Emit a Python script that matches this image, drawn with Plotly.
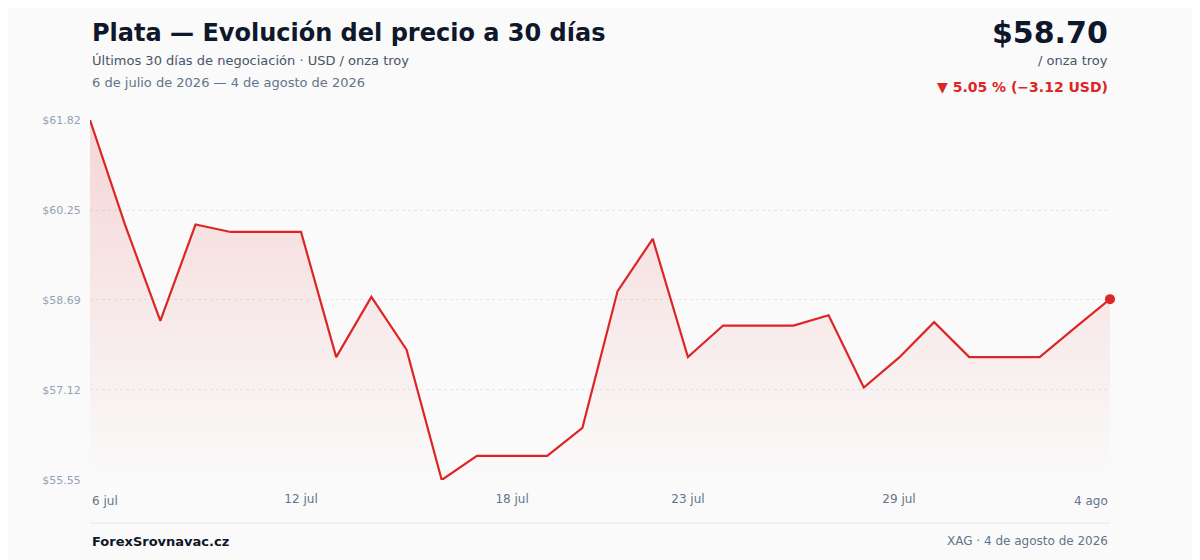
"""
Silver (XAG) 30-day price chart, Spanish labels.
"""

import pandas as pd
import plotly.graph_objects as go

# --- data -----------------------------------------------------------------
dates = pd.date_range("2026-07-06", "2026-08-04", freq="D")

prices = [
    61.82, 59.99, 58.32, 60.00, 59.87, 59.87, 59.87, 57.69, 58.74, 57.82,
    55.55, 55.97, 55.97, 55.97, 56.46, 58.84, 59.75, 57.69, 58.24, 58.24,
    58.24, 58.42, 57.16, 57.68, 58.30, 57.69, 57.69, 57.69, 58.20, 58.70,
]

y_ticks = [55.55, 57.12, 58.69, 60.25, 61.82]
y_tick_text = ["$55.55", "$57.12", "$58.69", "$60.25", "$61.82"]

x_tick_dates = ["2026-07-12", "2026-07-18", "2026-07-23", "2026-07-29"]
x_tick_text = ["12 jul", "18 jul", "23 jul", "29 jul"]
first_label = "6 jul"
last_label = "4 ago"

title = "Plata — Evolución del precio a 30 días"
subtitle = "Últimos 30 días de negociación · USD / onza troy"
date_span = "6 de julio de 2026 — 4 de agosto de 2026"
last_price = "$58.70"
unit = "/ onza troy"
change_text = "▼ 5.05 % (−3.12 USD)"
source = "ForexSrovnavac.cz"
footer_right = "XAG · 4 de agosto de 2026"

# --- style ----------------------------------------------------------------
RED = "#dc2626"
BG = "#fafafa"
FONT = "DejaVu Sans"

# the page body has an 8px margin, so the figure is shrunk to fit the window
PAGE_PAD = 8
W, H = 1200 - 2 * PAGE_PAD, 560 - PAGE_PAD
M_L, M_R, M_T, M_B = 90 - PAGE_PAD, 82, 120 - PAGE_PAD, 80
PLOT_H = H - M_T - M_B


def py(ypix):
    """Pixel row in the window (from top) -> paper y coordinate."""
    return (PAGE_PAD + M_T + PLOT_H - ypix) / PLOT_H


fig = go.Figure()

# area + line
fig.add_trace(go.Scatter(
    x=dates,
    y=prices,
    mode="lines",
    line=dict(color=RED, width=2.2),
    fill="tozeroy",
    fillgradient=dict(
        type="vertical",
        start=min(prices),
        stop=max(prices),
        colorscale=[[0, "rgba(220,38,38,0.0)"], [1, "rgba(220,38,38,0.17)"]],
    ),
    hoverinfo="x+y",
    showlegend=False,
))

# last point marker
fig.add_trace(go.Scatter(
    x=[dates[-1]],
    y=[prices[-1]],
    mode="markers",
    marker=dict(color=RED, size=10),
    cliponaxis=False,
    hoverinfo="skip",
    showlegend=False,
))

annotations = [
    dict(text=f"<b>{title}</b>", x=0, y=py(33), xanchor="left", yanchor="middle",
         font=dict(size=24, color="#0f172a")),
    dict(text=subtitle, x=0, y=py(61), xanchor="left", yanchor="middle",
         font=dict(size=13, color="#475569")),
    dict(text=date_span, x=0, y=py(83), xanchor="left", yanchor="middle",
         font=dict(size=13, color="#64748b")),
    dict(text=f"<b>{last_price}</b>", x=1, y=py(32), xanchor="right", yanchor="middle",
         font=dict(size=30, color="#0f172a")),
    dict(text=unit, x=1, y=py(61), xanchor="right", yanchor="middle",
         font=dict(size=13, color="#475569")),
    dict(text=f"<b>{change_text}</b>", x=1, y=py(87), xanchor="right", yanchor="middle",
         font=dict(size=14, color=RED)),
    dict(text=f"<b>{source}</b>", x=0, y=py(541), xanchor="left", yanchor="middle",
         font=dict(size=13, color="#0f172a")),
    dict(text=footer_right, x=1, y=py(541), xanchor="right", yanchor="middle",
         font=dict(size=12, color="#64748b")),
]
for a in annotations:
    a.update(xref="paper", yref="paper", showarrow=False)

# end tick labels, aligned to the plot edges
annotations.append(dict(text=first_label, x=dates[0], xref="x", y=py(501), yref="paper",
                        xanchor="left", yanchor="middle", showarrow=False,
                        font=dict(size=12, color="#64748b")))
annotations.append(dict(text=last_label, x=dates[-1], xref="x", y=py(501), yref="paper",
                        xanchor="right", yanchor="middle", showarrow=False,
                        font=dict(size=12, color="#64748b")))

fig.update_layout(
    width=W,
    height=H,
    margin=dict(l=M_L, r=M_R, t=M_T, b=M_B),
    paper_bgcolor=BG,
    plot_bgcolor=BG,
    font=dict(family=FONT),
    annotations=annotations,
    shapes=[dict(type="line", xref="paper", yref="paper", x0=0, x1=1,
                 y0=py(523), y1=py(523), line=dict(color="#e5e7eb", width=1))],
    hovermode="closest",
)

fig.update_xaxes(
    range=[dates[0], dates[-1]],
    tickvals=x_tick_dates,
    ticktext=x_tick_text,
    tickfont=dict(size=12, color="#64748b"),
    showgrid=False,
    zeroline=False,
    showline=False,
    ticks="outside",
    ticklen=8,
    tickcolor="rgba(0,0,0,0)",
)

fig.update_yaxes(
    range=[min(prices), max(prices)],
    tickvals=y_ticks,
    ticktext=y_tick_text,
    tickfont=dict(size=11, color="#94a3b8"),
    showgrid=True,
    gridcolor="#e5e7eb",
    griddash="dot",
    gridwidth=1,
    zeroline=False,
    showline=False,
    ticks="outside",
    ticklen=6,
    tickcolor="rgba(0,0,0,0)",
)

fig.write_html("out.html")
